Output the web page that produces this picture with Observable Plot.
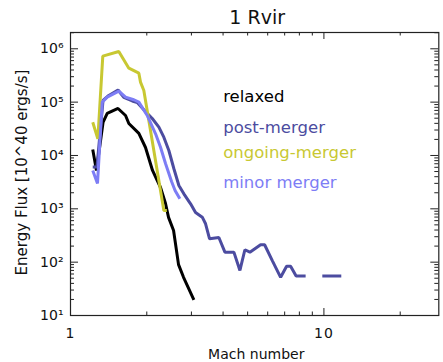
<!DOCTYPE html>
<html><head><meta charset="utf-8">
<script src="https://cdn.jsdelivr.net/npm/d3@7"></script>
<script src="https://cdn.jsdelivr.net/npm/@observablehq/plot@0.6"></script>
<style>
body{margin:0;background:#fff}
svg{display:block}
g[aria-label="legend-text"] text{letter-spacing:2px}
g[aria-label="xlabel"] text{letter-spacing:2px}
g[aria-label="ylabel"] text{letter-spacing:1.4px}
g[aria-label="x-axis tick label"] text{letter-spacing:1px}
</style>
</head><body><div id="chart"></div>
<script>
// ---- data ----
const seriesNames = ["relaxed", "post-merger", "ongoing-merger", "minor merger"];
const seriesColors = ["#000000", "#4c4ca0", "#c8c832", "#7d7df5"];

const relaxedMach = [1.224, 1.266, 1.344, 1.396, 1.540, 1.649, 1.699, 1.861, 1.977, 2.107, 2.266, 2.371, 2.437, 2.551, 2.669, 2.793, 3.068];
const relaxedFlux = [12970, 5240, 41600, 61400, 76000, 56200, 39800, 25900, 14100, 5240, 2510, 1260, 690, 393, 90, 52, 19.7];

const postMach = [1.224, 1.272, 1.344, 1.416, 1.540, 1.623, 1.752, 1.834, 2.008, 2.102, 2.232, 2.335, 2.444, 2.557, 2.677, 2.801, 2.977, 3.115, 3.311, 3.412, 3.538, 3.850, 4.067, 4.413, 4.661, 4.877, 5.104, 5.625, 5.834, 6.256, 6.748, 7.124, 7.389, 7.767, 8.469, 9.1, 9.855, 11.71];
const postFlux = [6100, 6100, 107400, 133400, 169000, 122400, 105200, 98600, 61400, 49400, 34000, 22000, 12400, 5700, 2740, 1910, 1240, 854, 697, 524, 274, 290, 154, 154, 70, 171, 154, 212, 212, 107, 52, 84, 84, 55, 55, null, 55, 55];

const ongoingMach = [1.224, 1.282, 1.341, 1.551, 1.699, 1.861, 1.889, 1.947, 2.335, 2.40];
const ongoingFlux = [42000, 20500, 728000, 891000, 433000, 349000, 237000, 165600, 931, 931];

const minorMach = [1.224, 1.278, 1.334, 1.396, 1.551, 1.649, 1.778, 1.861, 2.008, 2.166, 2.266, 2.371, 2.505, 2.586, 2.701];
const minorFlux = [5240, 2990, 100000, 123900, 160600, 123900, 110900, 100000, 56200, 25500, 14300, 7080, 3260, 2210, 1540];

const yMajorTicks = [1e1, 1e2, 1e3, 1e4, 1e5, 1e6];
const xLabelTicks = [1, 10];
const xMajorTicks = [10];
const xMinorTicks = [2, 3, 4, 5, 6, 7, 8, 9, 20];

const titleText = "1 Rvir";
const xLabelText = "Mach number";
const yLabelText = "Energy Flux [10^40 ergs/s]";

// ---- layout ----
const W = 443, H = 362, mL = 70, mR = 4.7, mT = 32, mB = 47;
const pw = W - mL - mR, ph = H - mT - mB;
const xDomain = [1, 28.4], yDomain = [10, 2.02e6];

const yMinorTicks = [];
for (let e = 1; e <= 6; e++) for (let k = 2; k <= 9; k++) {
  const v = k * Math.pow(10, e);
  if (v < yDomain[1]) yMinorTicks.push(v);
}

const machs = [relaxedMach, postMach, ongoingMach, minorMach];
const fluxes = [relaxedFlux, postFlux, ongoingFlux, minorFlux];
const series = seriesNames.map((name, i) => machs[i].map((m, j) => ({name, mach: m, flux: fluxes[i][j]})));

const sup = {"0":"⁰","1":"¹","2":"²","3":"³","4":"⁴","5":"⁵","6":"⁶","7":"⁷","8":"⁸","9":"⁹"};
const fmtPow = d => "10" + String(Math.round(Math.log10(d))).split("").map(c => sup[c]).join("");

const legendDy = [64.4, 95.5, 120.5, 150.5];

const marks = [];
// inward ticks on all four sides
marks.push(Plot.tickY(yMajorTicks, {y: d => d, insetRight: pw - 8, stroke: "#222"}));
marks.push(Plot.tickY(yMajorTicks, {y: d => d, insetLeft: pw - 8, stroke: "#222"}));
marks.push(Plot.tickY(yMinorTicks, {y: d => d, insetRight: pw - 4, stroke: "#222"}));
marks.push(Plot.tickY(yMinorTicks, {y: d => d, insetLeft: pw - 4, stroke: "#222"}));
marks.push(Plot.tickX(xMajorTicks, {x: d => d, insetTop: ph - 7, stroke: "#222"}));
marks.push(Plot.tickX(xMajorTicks, {x: d => d, insetBottom: ph - 7, stroke: "#222"}));
marks.push(Plot.tickX(xMinorTicks, {x: d => d, insetTop: ph - 3.5, stroke: "#222"}));
marks.push(Plot.tickX(xMinorTicks, {x: d => d, insetBottom: ph - 3.5, stroke: "#222"}));
marks.push(Plot.frame({stroke: "#222", strokeWidth: 1.2}));

// data lines
series.forEach((s, i) => {
  marks.push(Plot.line(s, {x: "mach", y: "flux", stroke: seriesColors[i], strokeWidth: 3, strokeLinejoin: "miter", strokeLinecap: "butt"}));
});

// legend text
seriesNames.forEach((n, i) => {
  marks.push(Plot.text([n], {text: d => d, frameAnchor: "top-left", dx: 152.7, dy: legendDy[i], fill: seriesColors[i], fontSize: 16.5, textAnchor: "start", lineAnchor: "middle", ariaLabel: "legend-text"}));
});

// axes
marks.push(Plot.axisY(yMajorTicks, {tickSize: 0, tickPadding: 7, tickFormat: fmtPow, fontSize: 14, label: null, fill: "#111"}));
marks.push(Plot.axisX(xLabelTicks, {tickSize: 0, tickPadding: 13, tickFormat: d => String(d), fontSize: 14, label: null, fill: "#111"}));

// titles
marks.push(Plot.text([titleText], {text: d => d, frameAnchor: "top", dx: 2.5, dy: -14.8, fontSize: 19, lineAnchor: "middle", textAnchor: "middle", fill: "#111"}));
marks.push(Plot.text([xLabelText], {text: d => d, frameAnchor: "bottom", dx: 1.6, dy: 38.8, fontSize: 14, lineAnchor: "middle", textAnchor: "middle", fill: "#111", ariaLabel: "xlabel"}));
marks.push(Plot.text([yLabelText], {text: d => d, frameAnchor: "left", dx: -48.5, dy: -1.5, rotate: -90, fontSize: 15, lineAnchor: "middle", textAnchor: "middle", fill: "#111", ariaLabel: "ylabel"}));

const chart = Plot.plot({
  width: W, height: H,
  marginLeft: mL, marginRight: mR, marginTop: mT, marginBottom: mB,
  style: {fontFamily: "DejaVu Sans", background: "#fff"},
  x: {type: "log", domain: xDomain},
  y: {type: "log", domain: yDomain},
  marks
});
document.getElementById("chart").appendChild(chart);
</script>
</body></html>
